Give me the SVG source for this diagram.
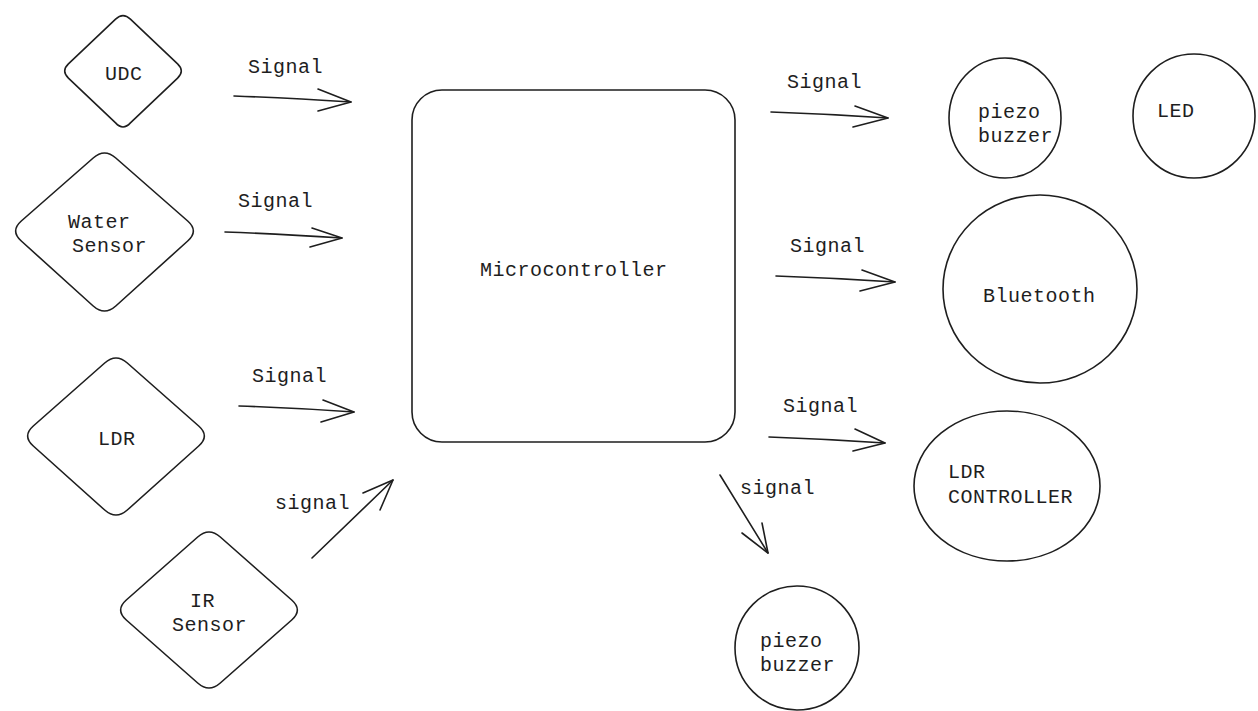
<svg xmlns="http://www.w3.org/2000/svg" width="1258" height="711" viewBox="0 0 1258 711">
  <style>
    .shape { fill: none; stroke: #1e1e1e; stroke-width: 1.6; stroke-linejoin: round; stroke-linecap: round; }
    .wire { fill: none; stroke: #1e1e1e; stroke-width: 1.6; stroke-linecap: round; }
    .head { fill: none; stroke: #1e1e1e; stroke-width: 1.6; stroke-linecap: round; stroke-linejoin: round; }
    .lbl { font-family: "Liberation Mono", "DejaVu Sans Mono", monospace; font-size: 20px; letter-spacing: 0.5px; fill: #1e1e1e; }
  </style>
  <rect width="1258" height="711" fill="#ffffff"/>

  <!-- input sensors (rounded diamonds) -->
  <g id="udc">
    <path class="shape" d="M130.4,19.1 L177.6,63.9 Q185,71 177.6,78.1 L130.4,122.9 Q123,131 115.6,122.9 L68.4,78.1 Q61,71 68.4,63.9 L115.6,19.1 Q123,12 130.4,19.1 Z"/>
    <text class="lbl" x="105" y="80">UDC</text>
  </g>
  <g id="water-sensor">
    <path class="shape" d="M115.8,158 L187.7,221 Q199,231 187.7,241 L115.8,306 Q104.5,316 93.2,306 L21.3,241 Q10,231 21.3,221 L93.2,158 Q104.5,148 115.8,158 Z"/>
    <text class="lbl" x="68" y="228">Water</text>
    <text class="lbl" x="72" y="252">Sensor</text>
  </g>
  <g id="ldr">
    <path class="shape" d="M127.3,363 L198.7,426 Q210,436 198.7,446 L127.3,510 Q116,520 104.7,510 L33.3,446 Q22,436 33.3,426 L104.7,363 Q116,353 127.3,363 Z"/>
    <text class="lbl" x="98" y="445">LDR</text>
  </g>
  <g id="ir-sensor">
    <path class="shape" d="M220.3,537 L291.7,600 Q303,610 291.7,620 L220.3,683 Q209,693 197.7,683 L126.3,620 Q115,610 126.3,600 L197.7,537 Q209,527 220.3,537 Z"/>
    <text class="lbl" x="190" y="607">IR</text>
    <text class="lbl" x="172" y="631">Sensor</text>
  </g>

  <!-- controller -->
  <g id="microcontroller">
    <rect class="shape" x="412" y="90" width="323" height="352" rx="30" ry="30"/>
    <text class="lbl" x="480" y="276">Microcontroller</text>
  </g>

  <!-- outputs (circles) -->
  <g id="piezo-buzzer-top">
    <ellipse class="shape" cx="1005" cy="118" rx="56" ry="60"/>
    <text class="lbl" x="978" y="118">piezo</text>
    <text class="lbl" x="978" y="142">buzzer</text>
  </g>
  <g id="led">
    <ellipse class="shape" cx="1194" cy="116" rx="61" ry="62"/>
    <text class="lbl" x="1157" y="117">LED</text>
  </g>
  <g id="bluetooth">
    <ellipse class="shape" cx="1040" cy="289" rx="97" ry="94"/>
    <text class="lbl" x="983" y="302">Bluetooth</text>
  </g>
  <g id="ldr-controller">
    <ellipse class="shape" cx="1007" cy="486" rx="93" ry="75"/>
    <text class="lbl" x="948" y="478">LDR</text>
    <text class="lbl" x="948" y="503">CONTROLLER</text>
  </g>
  <g id="piezo-buzzer-bottom">
    <ellipse class="shape" cx="797" cy="648" rx="62" ry="62"/>
    <text class="lbl" x="760" y="647">piezo</text>
    <text class="lbl" x="760" y="671">buzzer</text>
  </g>

  <!-- signal connectors -->
  <g id="connectors">
    <path class="wire" d="M234,96 Q290,98 351,102"/>
    <path class="head" d="M318,89 L351,102 L318,111"/>
    <text class="lbl" x="248" y="73">Signal</text>

    <path class="wire" d="M225,232 Q280,234 342,238"/>
    <path class="head" d="M312,228 L342,238 L310,247"/>
    <text class="lbl" x="238" y="207">Signal</text>

    <path class="wire" d="M239,406 Q295,408 354,412"/>
    <path class="head" d="M323,400 L354,412 L321,422"/>
    <text class="lbl" x="252" y="382">Signal</text>

    <path class="wire" d="M312,558 L393,480"/>
    <path class="head" d="M363,493 L393,480 L380,510"/>
    <text class="lbl" x="275" y="509">signal</text>

    <path class="wire" d="M771,112 Q830,114 888,118"/>
    <path class="head" d="M855,106 L888,118 L853,127"/>
    <text class="lbl" x="787" y="88">Signal</text>

    <path class="wire" d="M776,276 Q835,278 895,282"/>
    <path class="head" d="M862,270 L895,282 L860,291"/>
    <text class="lbl" x="790" y="252">Signal</text>

    <path class="wire" d="M769,437 Q826,439 885,443"/>
    <path class="head" d="M855,429 L885,443 L853,451"/>
    <text class="lbl" x="783" y="412">Signal</text>

    <path class="wire" d="M720,475 L768,553"/>
    <path class="head" d="M762,523 L768,553 L742,533"/>
    <text class="lbl" x="740" y="494">signal</text>
  </g>
</svg>
